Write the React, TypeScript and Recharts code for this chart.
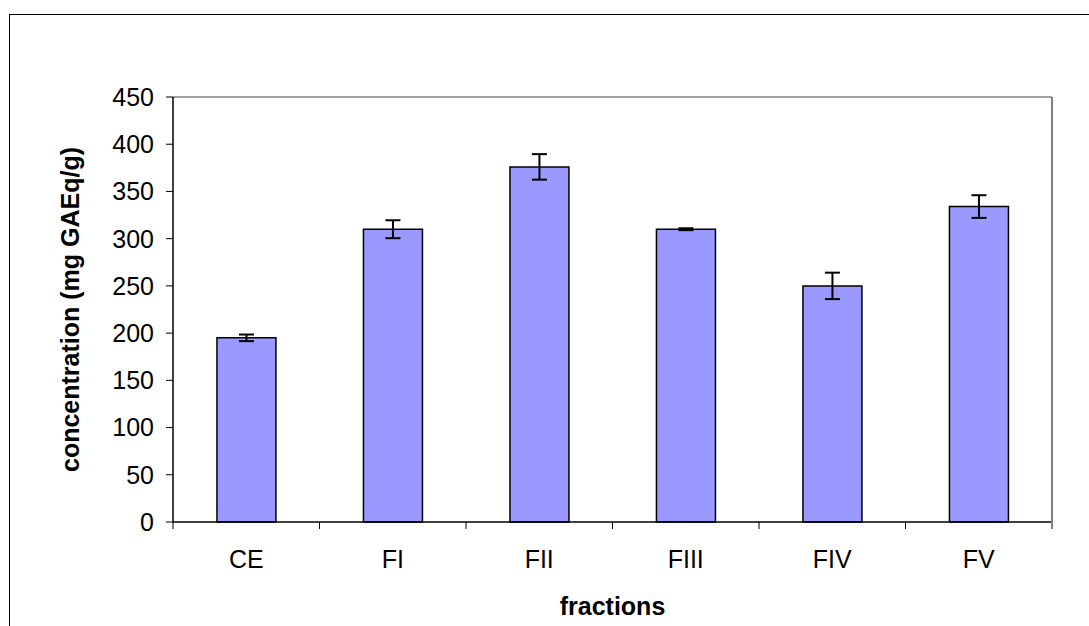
import React from "react";
import { BarChart, Bar, XAxis, YAxis, ErrorBar } from "recharts";

const categories = ["CE", "FI", "FII", "FIII", "FIV", "FV"];
const values = [195, 310, 376, 310, 250, 334];
const errors = [3.5, 9.5, 13.5, 1, 14, 12];
const yTicks = [0, 50, 100, 150, 200, 250, 300, 350, 400, 450];

const data = categories.map((name, i) => ({ name, value: values[i], err: errors[i] }));

const W = 1089;
const H = 626;
const M = { top: 96, right: 36, bottom: 0, left: 0 };
const Y_W = 173;
const X_H = 104;
const FONT = "'Liberation Sans', Arial, sans-serif";
const FS = 25;
const band = (W - M.left - M.right - 1 - Y_W) / categories.length;

const XTick = (props: any) => {
  const { x, y, payload, index } = props;
  return (
    <g>
      <line x1={x - band / 2} y1={y} x2={x - band / 2} y2={y + 7} stroke="#000" strokeWidth={1} />
      {index === categories.length - 1 && (
        <line x1={x + band / 2} y1={y} x2={x + band / 2} y2={y + 7} stroke="#808080" strokeWidth={2} />
      )}
      <text x={x} y={y + 46} textAnchor="middle" fontFamily={FONT} fontSize={FS} fill="#000">
        {payload.value}
      </text>
    </g>
  );
};

export default function App() {
  const plotBottom = H - M.bottom - X_H;
  const plotTop = M.top + 1;
  const plotCenterY = (plotTop + plotBottom) / 2;
  const plotCenterX = (Y_W + W - M.right - 1) / 2;
  return (
    <div style={{ position: "fixed", left: 0, top: 0, width: W, height: H, overflow: "hidden", background: "#fff" }}>
      <div
        style={{
          position: "absolute",
          left: 9,
          top: 14,
          width: 1100,
          height: 700,
          border: "1.5px solid #000",
          boxSizing: "border-box",
        }}
      />
      <div style={{ position: "absolute", left: 0, top: 0 }}>
        <BarChart width={W} height={H} data={data} margin={M} barCategoryGap="30%">
          <XAxis
            dataKey="name"
            height={X_H}
            tickLine={false}
            tickSize={0}
            tickMargin={0}
            axisLine={{ stroke: "#000", strokeWidth: 1.5 }}
            tick={<XTick />}
            interval={0}
            label={{
              content: () => (
                <text
                  x={plotCenterX}
                  y={615}
                  textAnchor="middle"
                  fontFamily={FONT}
                  fontSize={FS}
                  fontWeight="bold"
                  fill="#000"
                >
                  fractions
                </text>
              ),
            }}
          />
          <XAxis xAxisId="top" dataKey="name" orientation="top" height={1} tick={false} tickLine={false} axisLine={{ stroke: "#808080", strokeWidth: 1.5 }} />
          <YAxis
            width={Y_W}
            domain={[0, 450]}
            ticks={yTicks}
            interval={0}
            tickSize={7}
            tickMargin={12}
            axisLine={{ stroke: "#000", strokeWidth: 1.5 }}
            tickLine={{ stroke: "#000", strokeWidth: 1 }}
            tick={{ fontFamily: FONT, fontSize: FS, fill: "#000" }}
            label={{
              content: () => (
                <text
                  x={79}
                  y={plotCenterY}
                  transform={`rotate(-90, 79, ${plotCenterY})`}
                  textAnchor="middle"
                  fontFamily={FONT}
                  fontSize={FS}
                  fontWeight="bold"
                  fill="#000"
                >
                  concentration (mg GAEq/g)
                </text>
              ),
            }}
          />
          <YAxis yAxisId="right" orientation="right" width={1} tick={false} tickLine={false} axisLine={{ stroke: "#808080", strokeWidth: 2 }} />
          <Bar dataKey="value" fill="#9999FF" stroke="#000" strokeWidth={1.5} isAnimationActive={false}>
            <ErrorBar dataKey="err" direction="y" width={7.5} stroke="#000" strokeWidth={2} isAnimationActive={false} />
          </Bar>
        </BarChart>
      </div>
    </div>
  );
}
